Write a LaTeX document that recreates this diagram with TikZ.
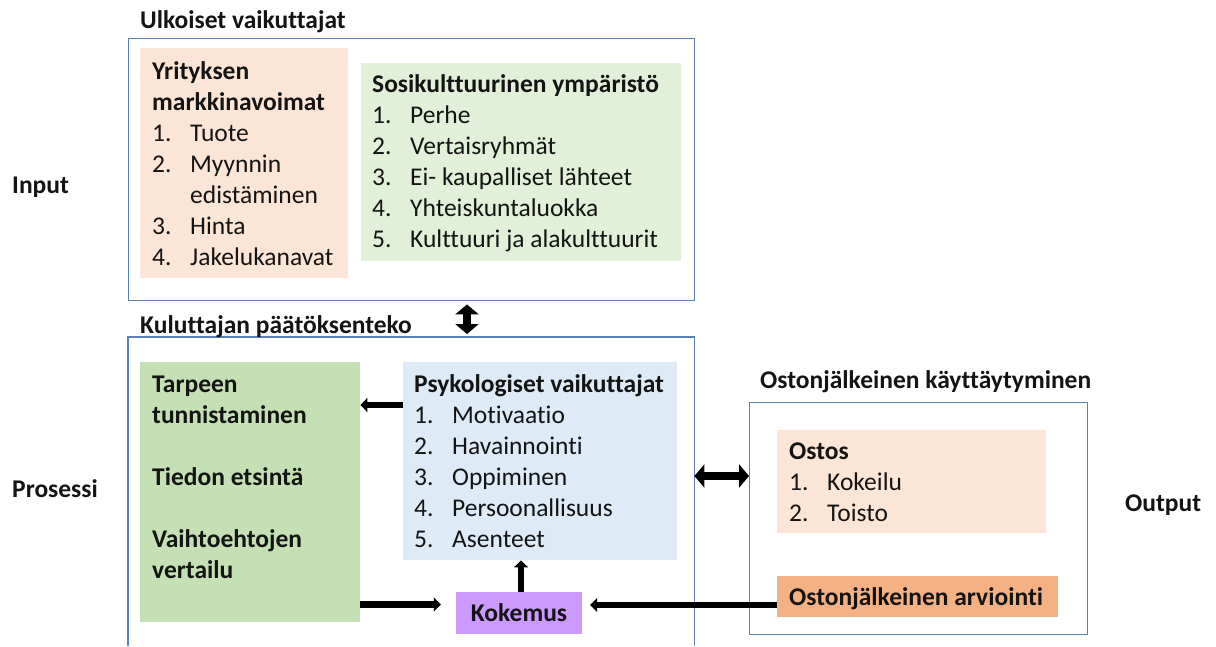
\documentclass[tikz,border=0pt]{standalone}
\usepackage{fontspec}
\setmainfont{Carlito}[Ligatures=NoCommon]
\usetikzlibrary{arrows.meta}
\definecolor{bord}{HTML}{5A82B8}
\definecolor{peach}{HTML}{FBE5D6}
\definecolor{lgreen}{HTML}{E2F0D9}
\definecolor{mgreen}{HTML}{C5E0B4}
\definecolor{lblue}{HTML}{DEEBF7}
\definecolor{violetbox}{HTML}{CC99FF}
\definecolor{orangebox}{HTML}{F4B183}
\definecolor{txtcol}{HTML}{141414}
\newcommand\itm[2]{\makebox[38pt][l]{#1}#2}
\begin{document}
\begin{tikzpicture}[x=1pt,y=-1pt,
  frame/.style={draw=bord, line width=1.4pt, anchor=north west, inner sep=0},
  panel/.style={draw=none, anchor=north west, inner sep=0},
  txt/.style={anchor=base west, inner sep=0, text=txtcol, font=\fontsize{25.5}{31}\selectfont},
  ttl/.style={anchor=base west, inner sep=0, text=txtcol, font=\fontsize{25.5}{31}\selectfont\bfseries},
  arr/.style={draw=black, line width=6.5pt, -{Triangle[width=14pt,length=7pt]}},
  dbl/.style={draw=black, line width=8pt, {Triangle[width=23pt,length=10pt]}-{Triangle[width=23pt,length=10pt]}}
]
\useasboundingbox (0,0) rectangle (1216,646);

% frames
\node[frame, minimum width=566, minimum height=262] (inp) at (128,38) {};
\node[panel, minimum width=566, minimum height=309] (proc) at (128,337) {};
\draw[draw=bord, line width=1.4pt] (proc.south west) -- (proc.north west) -- (proc.north east) -- (proc.south east);
\node[frame, minimum width=338, minimum height=232] (out) at (749,402) {};

% frame titles and side labels
\node[ttl] (t1) at (140,28) {Ulkoiset vaikuttajat};
\node[ttl] (t2) at (140,333) {Kuluttajan päätöksenteko};
\node[ttl] (t3) at (760,388) {Ostonjälkeinen käyttäytyminen};
\node[ttl] (lin) at (12,193) {Input};
\node[ttl] (lpr) at (12,497) {Prosessi};
\node[ttl] (lout) at (1125,511) {Output};

% panels
\node[panel, fill=peach, minimum width=208, minimum height=230] (yrit) at (140,48) {};
\node[txt] (yritT) at (152,79) {\begin{tabular}[t]{@{}l@{}}
\textbf{Yrityksen}\\ \textbf{markkinavoimat}\\
\itm{1.}{Tuote}\\ \itm{2.}{Myynnin}\\ \itm{}{edistäminen}\\
\itm{3.}{Hinta}\\ \itm{4.}{Jakelukanavat}\end{tabular}};

\node[panel, fill=lgreen, minimum width=320, minimum height=198] (sos) at (361,63) {};
\node[txt] (sosT) at (372,92) {\begin{tabular}[t]{@{}l@{}}
\textbf{Sosikulttuurinen ympäristö}\\
\itm{1.}{Perhe}\\ \itm{2.}{Vertaisryhmät}\\ \itm{3.}{Ei- kaupalliset lähteet}\\
\itm{4.}{Yhteiskuntaluokka}\\ \itm{5.}{Kulttuuri ja alakulttuurit}\end{tabular}};

\node[panel, fill=mgreen, minimum width=220, minimum height=260] (grn) at (140,362) {};
\node[txt] (grnT) at (152,392) {\begin{tabular}[t]{@{}l@{}}\bfseries
Tarpeen\\ \bfseries tunnistaminen\\ \\ \bfseries Tiedon etsintä\\ \\
\bfseries Vaihtoehtojen\\ \bfseries vertailu\end{tabular}};

\node[panel, fill=lblue, minimum width=274, minimum height=198] (psy) at (403,362) {};
\node[txt] (psyT) at (414,392) {\begin{tabular}[t]{@{}l@{}}
\textbf{Psykologiset vaikuttajat}\\
\itm{1.}{Motivaatio}\\ \itm{2.}{Havainnointi}\\ \itm{3.}{Oppiminen}\\
\itm{4.}{Persoonallisuus}\\ \itm{5.}{Asenteet}\end{tabular}};

\node[draw=none, fill=violetbox, minimum width=126, minimum height=42, inner sep=0,
  text=txtcol, font=\fontsize{25.5}{31}\selectfont\bfseries] (kok) at (519,613) {Kokemus};

\node[panel, fill=peach, minimum width=269, minimum height=103] (ost) at (777,430) {};
\node[txt] (ostT) at (789,459) {\begin{tabular}[t]{@{}l@{}}
\textbf{Ostos}\\ \itm{1.}{Kokeilu}\\ \itm{2.}{Toisto}\end{tabular}};

\node[panel, fill=orangebox, minimum width=281, minimum height=41] (arv) at (777,576) {};
\node[ttl] (arvT) at (789,605) {Ostonjälkeinen arviointi};

% connectors
\coordinate (a1) at ([yshift=-43pt]psy.north west);
\draw[arr] (a1) -- (a1 -| grn.east);
\coordinate (k1) at ([yshift=8.5pt]kok.west);
\draw[arr, shorten >=15pt] (k1 -| grn.east) -- (k1);
\draw[arr] ([xshift=2pt]kok.north) -- ([xshift=2pt]kok.north |- psy.south);
\coordinate (k2) at ([yshift=8pt]kok.east);
\draw[arr, shorten >=8pt] (k2 -| arv.west) -- (k2);

\coordinate (vx) at (467,0);
\draw[dbl, shorten <=3pt, shorten >=3pt] (inp.south -| vx) -- (proc.north -| vx);
\coordinate (hy) at (0,476);
\draw[dbl] (proc.east |- hy) -- (out.west |- hy);
\end{tikzpicture}
\end{document}
